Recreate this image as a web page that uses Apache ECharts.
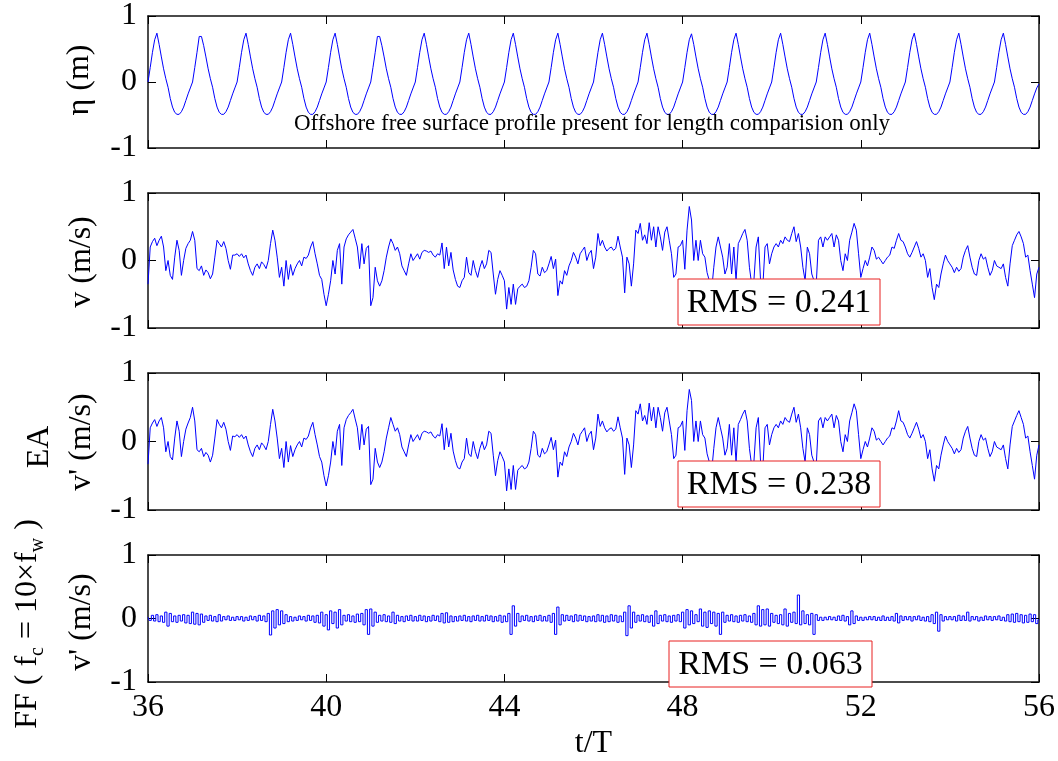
<!DOCTYPE html>
<html>
<head>
<meta charset="utf-8">
<script src="https://cdn.jsdelivr.net/npm/echarts@6/dist/echarts.min.js"></script>
<style>
  html, body { margin: 0; background: #fff; }
  #main { width: 1058px; height: 761px; }
</style>
</head>
<body>
<div id="main"></div>
<script>
// time axis: t/T from 36 to 56, one sample every 0.05 T
const tStart = 36;
const tStep = 0.05;

// offshore free surface elevation (m), one row per wave period
const eta = [
  0, .22, .45, .64, .74, .57, .38, .2, .05, -.08, -.25, -.38, -.46, -.49, -.49, -.45, -.38, -.28, -.18, -.09,
  0, .22, .45, .69, .69, .55, .38, .2, .05, -.08, -.25, -.38, -.46, -.49, -.49, -.45, -.38, -.28, -.18, -.09,
  0, .22, .45, .64, .74, .57, .38, .2, .05, -.08, -.25, -.38, -.46, -.49, -.49, -.45, -.38, -.28, -.18, -.09,
  0, .22, .45, .64, .74, .57, .38, .2, .05, -.08, -.25, -.38, -.46, -.49, -.49, -.45, -.38, -.28, -.18, -.09,
  0, .22, .45, .64, .74, .57, .38, .2, .05, -.08, -.25, -.38, -.46, -.49, -.49, -.45, -.38, -.28, -.18, -.09,
  0, .22, .45, .69, .69, .55, .38, .2, .05, -.08, -.25, -.38, -.46, -.49, -.49, -.45, -.38, -.28, -.18, -.09,
  0, .22, .45, .64, .74, .57, .38, .2, .05, -.08, -.25, -.38, -.46, -.49, -.49, -.45, -.38, -.28, -.18, -.09,
  0, .22, .45, .64, .74, .57, .38, .2, .05, -.08, -.25, -.38, -.46, -.49, -.49, -.45, -.38, -.28, -.18, -.09,
  0, .22, .45, .64, .74, .57, .38, .2, .05, -.08, -.25, -.38, -.46, -.49, -.49, -.45, -.38, -.28, -.18, -.09,
  0, .22, .45, .64, .74, .57, .38, .2, .05, -.08, -.25, -.38, -.46, -.49, -.49, -.45, -.38, -.28, -.18, -.09,
  0, .22, .45, .64, .74, .57, .38, .2, .05, -.08, -.25, -.38, -.46, -.49, -.49, -.45, -.38, -.28, -.18, -.09,
  0, .22, .45, .64, .74, .57, .38, .2, .05, -.08, -.25, -.38, -.46, -.49, -.49, -.45, -.38, -.28, -.18, -.09,
  0, .22, .45, .64, .73, .57, .38, .2, .05, -.08, -.25, -.38, -.46, -.49, -.49, -.45, -.38, -.28, -.18, -.09,
  0, .22, .45, .64, .74, .57, .38, .2, .05, -.08, -.25, -.38, -.46, -.49, -.49, -.45, -.38, -.28, -.18, -.09,
  0, .22, .45, .64, .74, .57, .38, .2, .05, -.08, -.25, -.38, -.46, -.49, -.49, -.45, -.38, -.28, -.18, -.09,
  0, .22, .45, .64, .74, .57, .38, .2, .05, -.08, -.25, -.38, -.46, -.49, -.49, -.45, -.38, -.28, -.18, -.09,
  0, .22, .45, .64, .74, .57, .38, .2, .05, -.08, -.25, -.38, -.46, -.49, -.49, -.45, -.38, -.28, -.18, -.09,
  0, .22, .45, .64, .74, .57, .38, .2, .05, -.08, -.25, -.38, -.46, -.49, -.49, -.45, -.38, -.28, -.18, -.09,
  0, .22, .45, .64, .74, .57, .38, .2, .05, -.08, -.25, -.38, -.46, -.49, -.49, -.45, -.38, -.28, -.18, -.09,
  0, .22, .45, .64, .74, .57, .38, .2, .05, -.08, -.25, -.38, -.46, -.49, -.49, -.45, -.38, -.28, -.18, -.09,
  -.03
];

// measured velocity v (m/s)
const vMeas = [
  -0.35, 0.2, 0.28, 0.33, 0.22, 0.3, 0.36, 0.2, -0.15, 0.0, -0.22, -0.28, 0.05, 0.3, 0.15, -0.22, 0.0, 0.18, 0.25, 0.3,
  0.43, 0.3, -0.12, -0.15, -0.08, -0.22, -0.14, -0.18, -0.27, -0.2, 0.05, 0.3, 0.25, 0.2, 0.28, 0.18, 0.0, -0.13, 0.08, 0.08,
  0.1, 0.06, 0.1, 0.04, 0.08, -0.05, -0.15, -0.22, -0.1, -0.05, -0.12, -0.02, -0.06, -0.12, 0.0, 0.25, 0.45, 0.3, 0.05, -0.25,
  -0.1, -0.38, 0.0, -0.28, -0.06, -0.22, -0.12, -0.05, 0.0, -0.08, 0.05, 0.03, 0.08, 0.2, 0.28, 0.1, -0.05, -0.22, -0.28, -0.5,
  -0.67, -0.5, -0.3, 0.0, -0.2, 0.15, 0.25, -0.35, 0.2, 0.32, 0.38, 0.42, 0.46, 0.33, 0.2, -0.12, 0.25, -0.05, 0.18, 0.22,
  -0.67, -0.55, -0.1, -0.3, -0.38, -0.3, -0.15, 0.05, 0.2, 0.32, 0.25, 0.15, 0.2, 0.1, -0.08, -0.15, -0.22, -0.05, 0.1, 0.0,
  0.05, 0.1, 0.02, 0.12, 0.15, 0.14, 0.12, 0.14, 0.08, 0.05, 0.1, 0.08, 0.26, -0.12, 0.2, -0.08, 0.12, -0.14, -0.28, -0.38,
  -0.4, -0.3, -0.25, 0.05, -0.18, -0.22, 0.0, -0.15, -0.25, -0.1, 0.0, -0.12, -0.05, 0.15, 0.12, -0.2, -0.5, -0.28, -0.15, -0.22,
  -0.3, -0.72, -0.4, -0.65, -0.35, -0.65, -0.42, -0.38, -0.35, -0.4, -0.38, -0.3, -0.1, 0.15, 0.1, -0.2, -0.23, -0.1, -0.18, -0.15,
  -0.05, 0.06, -0.12, 0.02, -0.52, -0.3, -0.35, -0.15, -0.22, -0.08, 0.0, 0.12, 0.05, -0.05, 0.1, 0.15, 0.2, 0.0, 0.1, 0.15,
  -0.12, 0.05, 0.4, 0.22, 0.3, 0.2, 0.14, 0.18, 0.2, 0.15, 0.18, 0.36, 0.2, 0.05, -0.48, 0.05, -0.05, -0.38, -0.05, 0.45,
  0.4, 0.55, 0.3, 0.38, 0.25, 0.56, 0.3, 0.5, 0.2, 0.5, 0.35, 0.15, 0.42, 0.5, 0.3, 0.1, -0.25, -0.2, 0.2, 0.22,
  0.3, -0.13, 0.45, 0.8, 0.6, 0.0, 0.3, 0.0, 0.3, 0.1, 0.05, -0.18, -0.3, -0.45, -0.1, 0.2, 0.35, 0.2, 0.05, -0.2,
  -0.1, 0.25, -0.2, 0.2, -0.3, 0.25, 0.32, 0.4, 0.46, 0.3, -0.1, -0.35, -0.3, 0.2, 0.35, -0.3, -0.4, 0.2, 0.25, -0.05,
  0.1, 0.2, 0.25, 0.2, 0.3, 0.25, 0.35, 0.3, 0.28, 0.4, 0.5, 0.28, 0.4, 0.2, -0.1, -0.3, 0.2, 0.1, -0.2, -0.3,
  -0.35, 0.3, 0.35, 0.2, 0.35, 0.3, 0.35, 0.4, 0.2, 0.38, 0.3, 0.0, -0.15, 0.1, 0.0, 0.3, 0.42, 0.55, 0.45, 0.1,
  -0.25, -0.12, 0.0, -0.08, 0.05, 0.2, 0.15, 0.02, 0.05, 0.0, -0.05, 0.0, 0.05, 0.08, 0.2, 0.18, 0.3, 0.4, 0.3, 0.28,
  0.2, 0.1, 0.05, 0.12, 0.2, 0.28, 0.18, 0.05, 0.1, 0.0, -0.25, -0.12, -0.4, -0.58, -0.35, -0.4, -0.2, -0.05, 0.08, 0.0,
  -0.05, -0.1, -0.18, -0.1, -0.16, -0.12, 0.05, 0.15, 0.22, 0.05, -0.1, -0.2, -0.22, 0.0, 0.1, 0.02, 0.05, -0.1, -0.22, -0.15,
  0.0, -0.08, -0.1, -0.12, -0.05, -0.25, -0.38, -0.05, 0.22, 0.3, 0.38, 0.43, 0.35, 0.25, 0.05, 0.08, -0.15, -0.35, -0.55, -0.2,
  -0.1
];

// EA turbulent velocity v' (m/s)
const vEA = [
  -0.33, 0.2, 0.27, 0.32, 0.22, 0.3, 0.35, 0.2, -0.15, 0.0, -0.22, -0.27, 0.05, 0.3, 0.15, -0.22, 0.0, 0.18, 0.27, 0.35,
  0.5, 0.3, -0.12, -0.15, -0.1, -0.22, -0.16, -0.2, -0.3, -0.2, 0.05, 0.32, 0.25, 0.2, 0.28, 0.18, 0.0, -0.13, 0.08, 0.07,
  0.1, 0.06, 0.1, 0.04, 0.08, -0.05, -0.15, -0.22, -0.1, -0.05, -0.12, -0.02, -0.06, -0.12, 0.0, 0.25, 0.47, 0.3, 0.05, -0.25,
  -0.1, -0.38, 0.0, -0.3, -0.06, -0.22, -0.12, -0.05, 0.0, -0.08, 0.05, 0.03, 0.08, 0.2, 0.28, 0.1, -0.05, -0.22, -0.3, -0.5,
  -0.65, -0.5, -0.3, 0.0, -0.2, 0.15, 0.25, -0.35, 0.2, 0.32, 0.38, 0.42, 0.47, 0.33, 0.2, -0.12, 0.25, -0.05, 0.18, 0.22,
  -0.63, -0.55, -0.1, -0.3, -0.38, -0.3, -0.15, 0.05, 0.2, 0.35, 0.25, 0.15, 0.2, 0.1, -0.08, -0.15, -0.22, -0.05, 0.1, 0.0,
  0.05, 0.1, 0.02, 0.12, 0.15, 0.14, 0.12, 0.14, 0.08, 0.05, 0.1, 0.08, 0.26, -0.12, 0.2, -0.08, 0.12, -0.14, -0.28, -0.38,
  -0.4, -0.3, -0.25, 0.05, -0.18, -0.22, 0.0, -0.15, -0.25, -0.1, 0.0, -0.12, -0.05, 0.15, 0.12, -0.2, -0.5, -0.28, -0.15, -0.22,
  -0.3, -0.72, -0.4, -0.7, -0.35, -0.7, -0.42, -0.38, -0.35, -0.4, -0.38, -0.3, -0.1, 0.15, 0.1, -0.2, -0.23, -0.1, -0.18, -0.15,
  -0.05, 0.06, -0.12, 0.02, -0.52, -0.3, -0.35, -0.15, -0.22, -0.08, 0.0, 0.12, 0.05, -0.05, 0.1, 0.15, 0.2, 0.0, 0.1, 0.15,
  -0.12, 0.05, 0.4, 0.22, 0.3, 0.2, 0.14, 0.18, 0.2, 0.15, 0.18, 0.36, 0.2, 0.05, -0.48, 0.05, -0.05, -0.38, -0.05, 0.45,
  0.4, 0.55, 0.3, 0.38, 0.25, 0.56, 0.3, 0.5, 0.2, 0.5, 0.35, 0.15, 0.42, 0.5, 0.3, 0.1, -0.25, -0.2, 0.2, 0.22,
  0.3, -0.13, 0.45, 0.76, 0.6, 0.0, 0.3, 0.0, 0.3, 0.1, 0.05, -0.18, -0.3, -0.45, -0.1, 0.2, 0.35, 0.2, 0.05, -0.2,
  -0.1, 0.25, -0.2, 0.2, -0.3, 0.25, 0.32, 0.4, 0.46, 0.3, -0.1, -0.35, -0.3, 0.2, 0.35, -0.3, -0.4, 0.2, 0.25, -0.05,
  0.1, 0.2, 0.25, 0.2, 0.3, 0.25, 0.35, 0.3, 0.28, 0.4, 0.5, 0.28, 0.4, 0.2, -0.1, -0.3, 0.2, 0.1, -0.2, -0.3,
  -0.35, 0.3, 0.35, 0.2, 0.35, 0.3, 0.35, 0.4, 0.2, 0.38, 0.3, 0.0, -0.15, 0.1, 0.0, 0.3, 0.42, 0.55, 0.45, 0.1,
  -0.25, -0.12, 0.0, -0.08, 0.05, 0.2, 0.15, 0.02, 0.05, 0.0, -0.05, 0.0, 0.05, 0.08, 0.2, 0.18, 0.3, 0.45, 0.3, 0.28,
  0.2, 0.1, 0.05, 0.12, 0.2, 0.28, 0.18, 0.05, 0.1, 0.0, -0.25, -0.12, -0.4, -0.58, -0.35, -0.4, -0.2, -0.05, 0.08, 0.0,
  -0.05, -0.1, -0.18, -0.1, -0.16, -0.12, 0.05, 0.15, 0.22, 0.05, -0.1, -0.2, -0.22, 0.0, 0.1, 0.02, 0.05, -0.1, -0.22, -0.15,
  0.0, -0.08, -0.1, -0.12, -0.05, -0.25, -0.4, -0.05, 0.22, 0.3, 0.38, 0.45, 0.35, 0.25, 0.05, 0.08, -0.15, -0.35, -0.55, -0.2,
  -0.05
];

// FF turbulent velocity v' (m/s), fc = 10 x fw
const vFF = [
  0.02, -0.03, 0.05, -0.04, 0.06, -0.05, 0.04, -0.06, 0.1, -0.12, 0.08, -0.05, 0.04, -0.06, 0.05, -0.04, 0.06, -0.07, 0.05, -0.08,
  0.1, -0.09, 0.08, -0.1, 0.07, -0.06, 0.04, -0.03, 0.05, -0.04, 0.03, -0.05, 0.06, -0.04, 0.03, -0.02, 0.04, -0.03, 0.02, -0.03,
  0.03, -0.02, 0.03, -0.04, 0.02, -0.03, 0.04, -0.02, 0.03, -0.04, 0.05, -0.03, 0.04, -0.05, 0.08, -0.26, 0.12, -0.15, 0.14, -0.1,
  0.12, -0.08, 0.06, -0.05, 0.03, -0.04, 0.02, -0.03, 0.04, -0.02, 0.03, -0.04, 0.05, -0.03, 0.04, -0.06, 0.05, -0.07, 0.1, -0.12,
  0.06, -0.18, 0.12, -0.08, 0.1, -0.15, 0.14, -0.1, 0.05, -0.04, 0.06, -0.05, 0.04, -0.06, 0.07, -0.05, 0.08, -0.1, 0.14, -0.25,
  0.15, -0.12, 0.1, -0.06, 0.05, -0.04, 0.06, -0.05, 0.04, -0.06, 0.1, -0.08, 0.05, -0.04, 0.03, -0.05, 0.04, -0.03, 0.05, -0.04,
  0.03, -0.04, 0.05, -0.03, 0.04, -0.05, 0.03, -0.04, 0.05, -0.03, 0.04, -0.05, 0.08, -0.07, 0.09, -0.06, 0.04, -0.05, 0.03, -0.04,
  0.04, -0.03, 0.05, -0.04, 0.03, -0.05, 0.04, -0.03, 0.05, -0.04, 0.03, -0.04, 0.05, -0.03, 0.04, -0.05, 0.03, -0.04, 0.05, -0.06,
  0.04, -0.05, 0.08, -0.25, 0.2, -0.12, 0.08, -0.05, 0.04, -0.03, 0.05, -0.04, 0.03, -0.05, 0.04, -0.03, 0.05, -0.04, 0.03, -0.04,
  0.05, -0.06, 0.08, -0.25, 0.18, -0.1, 0.06, -0.04, 0.05, -0.03, 0.04, -0.05, 0.06, -0.04, 0.05, -0.03, 0.04, -0.05, 0.03, -0.04,
  0.04, -0.05, 0.06, -0.04, 0.05, -0.06, 0.04, -0.05, 0.06, -0.04, 0.05, -0.06, 0.04, -0.05, 0.1, -0.27, 0.2, -0.15, 0.1, -0.06,
  0.05, -0.04, 0.06, -0.05, 0.04, -0.06, 0.05, -0.12, 0.12, -0.08, 0.05, -0.04, 0.06, -0.05, 0.04, -0.06, 0.05, -0.04, 0.06, -0.05,
  0.1, -0.15, 0.14, -0.1, 0.12, -0.08, 0.06, -0.05, 0.15, -0.12, 0.1, -0.14, 0.12, -0.08, 0.1, -0.12, 0.08, -0.25, 0.1, -0.06,
  0.05, -0.04, 0.06, -0.05, 0.04, -0.06, 0.05, -0.04, 0.06, -0.05, 0.04, -0.06, 0.08, -0.1, 0.2, -0.12, 0.14, -0.1, 0.15, -0.12,
  0.08, -0.06, 0.05, -0.08, 0.06, -0.1, 0.15, -0.12, 0.08, -0.06, 0.1, -0.08, 0.37, -0.1, 0.12, -0.08, 0.06, -0.1, 0.08, -0.25,
  0.06, -0.03, 0.02, -0.03, 0.02, -0.02, 0.03, -0.02, 0.02, -0.03, 0.04, -0.03, 0.05, -0.04, 0.03, -0.1, 0.12, -0.08, 0.04, -0.03,
  0.02, -0.03, 0.02, -0.02, 0.03, -0.02, 0.03, -0.03, 0.02, -0.03, 0.04, -0.03, 0.02, -0.03, 0.03, -0.04, 0.08, -0.07, 0.04, -0.03,
  0.03, -0.02, 0.03, -0.04, 0.03, -0.02, 0.04, -0.03, 0.02, -0.04, 0.03, -0.05, 0.06, -0.08, 0.1, -0.2, 0.06, -0.04, 0.03, -0.02,
  0.03, -0.02, 0.03, -0.04, 0.05, -0.03, 0.04, -0.03, 0.1, -0.04, 0.03, -0.02, 0.03, -0.04, 0.02, -0.03, 0.04, -0.02, 0.03, -0.03,
  0.03, -0.02, 0.04, -0.03, 0.02, -0.04, 0.06, -0.05, 0.07, -0.06, 0.08, -0.05, 0.06, -0.07, 0.05, -0.06, 0.07, -0.05, 0.06, -0.08,
  -0.02
];

const rmsTexts = ['RMS = 0.241', 'RMS = 0.238', 'RMS = 0.063'];

const serif = 'Liberation Serif, Times New Roman, serif';

function toPairs(vals) {
  return vals.map((v, i) => [+(tStart + i * tStep).toFixed(2), v]);
}

// the filtered FF trace is drawn sample-and-hold, the others as plain lines
const panels = [
  { top: 11, height: 137, data: eta, step: false },
  { top: 193, height: 135, data: vMeas, step: false },
  { top: 373, height: 137, data: vEA, step: false },
  { top: 555, height: 135, data: vFF, step: 'middle' }
];

const chart = echarts.init(document.getElementById('main'));

const tick = { show: true, inside: true, length: 8, lineStyle: { color: '#000', width: 1 } };
const line = { show: true, onZero: false, lineStyle: { color: '#111', width: 1.5 } };

let grid = [], xAxis = [], yAxis = [], series = [];
panels.forEach((p, i) => {
  grid.push({ left: 148, right: 19, top: p.top, height: p.height });
  const last = i === panels.length - 1;
  xAxis.push({
    type: 'value', gridIndex: i, position: 'bottom', min: 36, max: 56, interval: 4,
    axisLine: line, axisTick: tick, splitLine: { show: false },
    axisLabel: { show: last, color: '#000', fontFamily: serif, fontSize: 32, margin: 10 },
    name: last ? 't/T' : '', nameLocation: 'middle', nameGap: 46,
    nameTextStyle: { color: '#000', fontFamily: serif, fontSize: 32 }
  });
  xAxis.push({
    type: 'value', gridIndex: i, position: 'top', min: 36, max: 56, interval: 4,
    axisLine: line, axisTick: tick, splitLine: { show: false }, axisLabel: { show: false }
  });
  yAxis.push({
    type: 'value', gridIndex: i, position: 'left', min: -1, max: 1, interval: 1,
    axisLine: line, axisTick: tick, splitLine: { show: false },
    axisLabel: { color: '#000', fontFamily: serif, fontSize: 32, margin: 11 }
  });
  yAxis.push({
    type: 'value', gridIndex: i, position: 'right', min: -1, max: 1, interval: 1,
    axisLine: line, axisTick: tick, splitLine: { show: false }, axisLabel: { show: false }
  });
  series.push({
    type: 'line', xAxisIndex: i * 2, yAxisIndex: i * 2, data: toPairs(p.data),
    step: p.step,
    showSymbol: false, symbol: 'none', lineStyle: { color: '#0000ff', width: 1 }
  });
});

function vText(x, y, text) {
  return {
    type: 'text', x: x, y: y, rotation: Math.PI / 2,
    style: { text: text, fill: '#000', fontFamily: serif, fontSize: 32, align: 'center', verticalAlign: 'middle' }
  };
}

function rmsBox(x, y, w, h, text) {
  return {
    type: 'group',
    children: [
      { type: 'rect', shape: { x: x, y: y, width: w, height: h }, style: { fill: '#fff', stroke: '#e82020', lineWidth: 1 }, z: 10 },
      { type: 'text', x: x + w / 2, y: y + h / 2 + 1, z: 11,
        style: { text: text, fill: '#000', fontFamily: serif, fontSize: 34, align: 'center', verticalAlign: 'middle' } }
    ]
  };
}

const graphic = [
  vText(80, 80, 'η (m)'),
  vText(82, 262, 'v (m/s)'),
  vText(40, 447, 'EA'),
  vText(82, 442, "v' (m/s)"),
  vText(82, 622, "v' (m/s)"),
  {
    type: 'text', x: 28, y: 624, rotation: Math.PI / 2,
    style: {
      text: '{n|FF ( f}{s|c}{n| = 10×f}{s|w}{n| )}',
      fill: '#000', align: 'center', verticalAlign: 'middle',
      rich: {
        n: { fontFamily: serif, fontSize: 32, fill: '#000', lineHeight: 40 },
        s: { fontFamily: serif, fontSize: 20, fill: '#000', lineHeight: 40, verticalAlign: 'bottom', padding: [14, 0, 0, 0] }
      }
    }
  },
  {
    type: 'text', x: 592, y: 124, z: 10,
    style: { text: 'Offshore free surface profile present for length comparision only', fill: '#000',
      fontFamily: serif, fontSize: 23, align: 'center', verticalAlign: 'middle' }
  },
  rmsBox(678, 279, 202, 46, rmsTexts[0]),
  rmsBox(678, 461, 202, 46, rmsTexts[1]),
  rmsBox(669, 641, 203, 46, rmsTexts[2])
];

chart.setOption({
  backgroundColor: '#fff',
  animation: false,
  grid: grid,
  xAxis: xAxis,
  yAxis: yAxis,
  series: series,
  graphic: graphic
});
window.addEventListener('resize', chart.resize);
</script>
</body>
</html>
